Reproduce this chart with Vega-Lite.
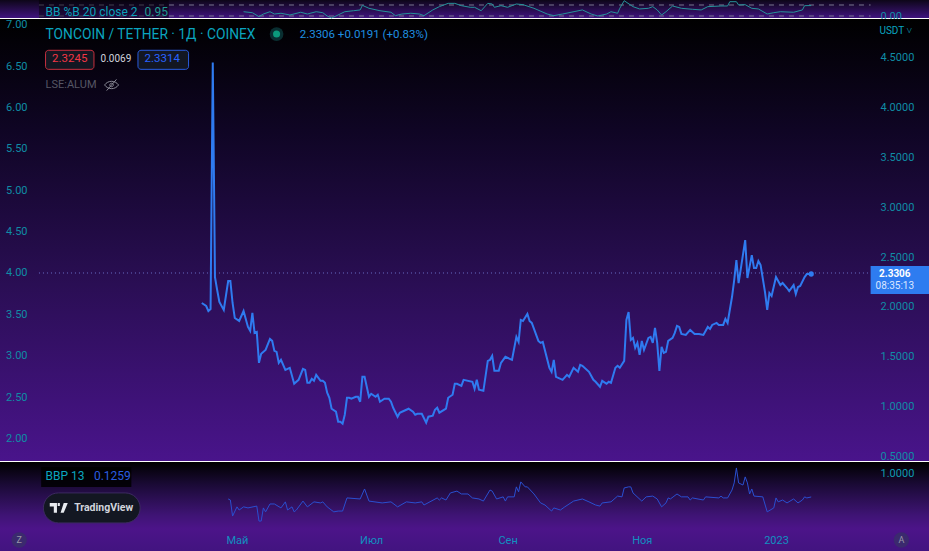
{"$schema":"https://vega.github.io/schema/vega-lite/v6.json","padding":{"top":-2,"left":0,"right":0,"bottom":0},"spacing":1,"bounds":"flush","background":"#ffffff","config":{"font":"Roboto","view":{"stroke":null},"text":{"font":"Roboto"}},
"datasets":{
"price":[{"d":"2022-04-15","p":2.04},{"d":"2022-04-17","p":2.01},{"d":"2022-04-18","p":1.96},{"d":"2022-04-19","p":1.98},{"d":"2022-04-20","p":4.45},{"d":"2022-04-21","p":2.3},{"d":"2022-04-22","p":2.17},{"d":"2022-04-23","p":2.05},{"d":"2022-04-25","p":1.97},{"d":"2022-04-27","p":2.26},{"d":"2022-04-28","p":2.26},{"d":"2022-04-29","p":2.04},{"d":"2022-04-30","p":1.89},{"d":"2022-05-02","p":1.86},{"d":"2022-05-04","p":1.96},{"d":"2022-05-06","p":1.8},{"d":"2022-05-07","p":1.76},{"d":"2022-05-08","p":1.94},{"d":"2022-05-09","p":1.74},{"d":"2022-05-10","p":1.75},{"d":"2022-05-11","p":1.44},{"d":"2022-05-12","p":1.53},{"d":"2022-05-14","p":1.57},{"d":"2022-05-16","p":1.68},{"d":"2022-05-17","p":1.66},{"d":"2022-05-18","p":1.56},{"d":"2022-05-19","p":1.55},{"d":"2022-05-20","p":1.44},{"d":"2022-05-21","p":1.47},{"d":"2022-05-23","p":1.37},{"d":"2022-05-25","p":1.39},{"d":"2022-05-27","p":1.23},{"d":"2022-05-29","p":1.27},{"d":"2022-05-31","p":1.38},{"d":"2022-06-01","p":1.37},{"d":"2022-06-02","p":1.24},{"d":"2022-06-03","p":1.24},{"d":"2022-06-04","p":1.28},{"d":"2022-06-05","p":1.26},{"d":"2022-06-06","p":1.32},{"d":"2022-06-08","p":1.26},{"d":"2022-06-09","p":1.26},{"d":"2022-06-10","p":1.24},{"d":"2022-06-11","p":1.14},{"d":"2022-06-12","p":1.09},{"d":"2022-06-13","p":0.98},{"d":"2022-06-15","p":0.95},{"d":"2022-06-16","p":0.85},{"d":"2022-06-17","p":0.85},{"d":"2022-06-18","p":0.83},{"d":"2022-06-19","p":0.92},{"d":"2022-06-20","p":1.09},{"d":"2022-06-21","p":1.09},{"d":"2022-06-22","p":1.08},{"d":"2022-06-24","p":1.1},{"d":"2022-06-25","p":1.1},{"d":"2022-06-26","p":1.05},{"d":"2022-06-27","p":1.3},{"d":"2022-06-28","p":1.3},{"d":"2022-06-30","p":1.1},{"d":"2022-07-01","p":1.13},{"d":"2022-07-03","p":1.1},{"d":"2022-07-04","p":1.12},{"d":"2022-07-05","p":1.05},{"d":"2022-07-07","p":1.08},{"d":"2022-07-09","p":1.08},{"d":"2022-07-10","p":1.05},{"d":"2022-07-11","p":0.99},{"d":"2022-07-13","p":0.9},{"d":"2022-07-14","p":0.94},{"d":"2022-07-15","p":0.95},{"d":"2022-07-18","p":0.98},{"d":"2022-07-20","p":0.95},{"d":"2022-07-21","p":0.92},{"d":"2022-07-22","p":0.93},{"d":"2022-07-24","p":0.93},{"d":"2022-07-26","p":0.84},{"d":"2022-07-27","p":0.9},{"d":"2022-07-29","p":0.91},{"d":"2022-07-30","p":0.97},{"d":"2022-07-31","p":0.99},{"d":"2022-08-01","p":0.94},{"d":"2022-08-04","p":0.98},{"d":"2022-08-05","p":1.09},{"d":"2022-08-07","p":1.12},{"d":"2022-08-08","p":1.23},{"d":"2022-08-09","p":1.23},{"d":"2022-08-11","p":1.21},{"d":"2022-08-12","p":1.27},{"d":"2022-08-16","p":1.25},{"d":"2022-08-17","p":1.18},{"d":"2022-08-18","p":1.27},{"d":"2022-08-19","p":1.17},{"d":"2022-08-21","p":1.16},{"d":"2022-08-23","p":1.46},{"d":"2022-08-24","p":1.47},{"d":"2022-08-25","p":1.51},{"d":"2022-08-26","p":1.36},{"d":"2022-08-28","p":1.36},{"d":"2022-08-29","p":1.44},{"d":"2022-08-31","p":1.5},{"d":"2022-09-02","p":1.48},{"d":"2022-09-03","p":1.47},{"d":"2022-09-05","p":1.7},{"d":"2022-09-06","p":1.65},{"d":"2022-09-07","p":1.87},{"d":"2022-09-08","p":1.86},{"d":"2022-09-10","p":1.93},{"d":"2022-09-11","p":1.86},{"d":"2022-09-12","p":1.84},{"d":"2022-09-15","p":1.66},{"d":"2022-09-16","p":1.64},{"d":"2022-09-17","p":1.65},{"d":"2022-09-20","p":1.39},{"d":"2022-09-21","p":1.35},{"d":"2022-09-22","p":1.47},{"d":"2022-09-23","p":1.3},{"d":"2022-09-26","p":1.27},{"d":"2022-09-28","p":1.32},{"d":"2022-09-29","p":1.3},{"d":"2022-10-01","p":1.39},{"d":"2022-10-03","p":1.35},{"d":"2022-10-04","p":1.42},{"d":"2022-10-05","p":1.41},{"d":"2022-10-08","p":1.35},{"d":"2022-10-10","p":1.27},{"d":"2022-10-11","p":1.25},{"d":"2022-10-13","p":1.2},{"d":"2022-10-14","p":1.26},{"d":"2022-10-16","p":1.23},{"d":"2022-10-17","p":1.25},{"d":"2022-10-18","p":1.24},{"d":"2022-10-20","p":1.39},{"d":"2022-10-21","p":1.41},{"d":"2022-10-22","p":1.39},{"d":"2022-10-24","p":1.46},{"d":"2022-10-25","p":1.87},{"d":"2022-10-26","p":1.95},{"d":"2022-10-27","p":1.67},{"d":"2022-10-28","p":1.69},{"d":"2022-10-29","p":1.59},{"d":"2022-10-30","p":1.64},{"d":"2022-10-31","p":1.52},{"d":"2022-11-01","p":1.66},{"d":"2022-11-02","p":1.57},{"d":"2022-11-04","p":1.69},{"d":"2022-11-05","p":1.7},{"d":"2022-11-06","p":1.64},{"d":"2022-11-07","p":1.79},{"d":"2022-11-08","p":1.64},{"d":"2022-11-09","p":1.36},{"d":"2022-11-10","p":1.6},{"d":"2022-11-11","p":1.54},{"d":"2022-11-12","p":1.55},{"d":"2022-11-13","p":1.66},{"d":"2022-11-15","p":1.69},{"d":"2022-11-16","p":1.74},{"d":"2022-11-17","p":1.81},{"d":"2022-11-18","p":1.8},{"d":"2022-11-19","p":1.73},{"d":"2022-11-21","p":1.72},{"d":"2022-11-23","p":1.77},{"d":"2022-11-25","p":1.73},{"d":"2022-11-27","p":1.73},{"d":"2022-11-29","p":1.72},{"d":"2022-12-01","p":1.8},{"d":"2022-12-02","p":1.78},{"d":"2022-12-03","p":1.82},{"d":"2022-12-05","p":1.84},{"d":"2022-12-06","p":1.82},{"d":"2022-12-08","p":1.82},{"d":"2022-12-09","p":1.88},{"d":"2022-12-10","p":1.84},{"d":"2022-12-11","p":1.97},{"d":"2022-12-12","p":2.1},{"d":"2022-12-13","p":2.27},{"d":"2022-12-14","p":2.47},{"d":"2022-12-15","p":2.24},{"d":"2022-12-18","p":2.67},{"d":"2022-12-19","p":2.29},{"d":"2022-12-21","p":2.52},{"d":"2022-12-22","p":2.39},{"d":"2022-12-23","p":2.39},{"d":"2022-12-24","p":2.46},{"d":"2022-12-25","p":2.42},{"d":"2022-12-27","p":2.15},{"d":"2022-12-28","p":1.97},{"d":"2022-12-29","p":2.14},{"d":"2022-12-30","p":2.11},{"d":"2023-01-01","p":2.3},{"d":"2023-01-03","p":2.22},{"d":"2023-01-04","p":2.24},{"d":"2023-01-06","p":2.19},{"d":"2023-01-07","p":2.16},{"d":"2023-01-09","p":2.22},{"d":"2023-01-10","p":2.13},{"d":"2023-01-11","p":2.2},{"d":"2023-01-12","p":2.21},{"d":"2023-01-14","p":2.3},{"d":"2023-01-15","p":2.33},{"d":"2023-01-17","p":2.3306}],
"bbp":[{"d":"2022-04-27","v":0.05},{"d":"2022-04-28","v":0.01},{"d":"2022-04-29","v":-0.6},{"d":"2022-05-01","v":-0.25},{"d":"2022-05-02","v":-0.37},{"d":"2022-05-04","v":-0.25},{"d":"2022-05-06","v":-0.29},{"d":"2022-05-10","v":-0.22},{"d":"2022-05-11","v":-0.79},{"d":"2022-05-12","v":-0.79},{"d":"2022-05-13","v":-0.29},{"d":"2022-05-14","v":-0.44},{"d":"2022-05-16","v":-0.14},{"d":"2022-05-18","v":-0.14},{"d":"2022-05-21","v":-0.29},{"d":"2022-05-23","v":-0.06},{"d":"2022-05-24","v":-0.37},{"d":"2022-05-26","v":-0.25},{"d":"2022-05-27","v":-0.44},{"d":"2022-05-28","v":-0.37},{"d":"2022-05-31","v":-0.03},{"d":"2022-06-02","v":-0.25},{"d":"2022-06-05","v":-0.06},{"d":"2022-06-08","v":-0.1},{"d":"2022-06-09","v":-0.06},{"d":"2022-06-11","v":-0.25},{"d":"2022-06-14","v":-0.44},{"d":"2022-06-16","v":-0.41},{"d":"2022-06-18","v":-0.41},{"d":"2022-06-20","v":0.09},{"d":"2022-06-26","v":0.05},{"d":"2022-06-28","v":0.43},{"d":"2022-06-30","v":-0.03},{"d":"2022-07-06","v":-0.1},{"d":"2022-07-10","v":-0.06},{"d":"2022-07-13","v":-0.25},{"d":"2022-07-17","v":-0.06},{"d":"2022-07-21","v":-0.1},{"d":"2022-07-24","v":-0.06},{"d":"2022-07-25","v":-0.18},{"d":"2022-07-31","v":0.09},{"d":"2022-08-01","v":0.01},{"d":"2022-08-02","v":0.09},{"d":"2022-08-04","v":0.01},{"d":"2022-08-06","v":0.28},{"d":"2022-08-09","v":0.35},{"d":"2022-08-11","v":0.24},{"d":"2022-08-14","v":0.24},{"d":"2022-08-16","v":0.09},{"d":"2022-08-19","v":0.05},{"d":"2022-08-21","v":-0.03},{"d":"2022-08-24","v":0.39},{"d":"2022-08-25","v":0.35},{"d":"2022-08-27","v":0.05},{"d":"2022-08-30","v":0.13},{"d":"2022-08-31","v":-0.03},{"d":"2022-09-01","v":0.13},{"d":"2022-09-04","v":0.13},{"d":"2022-09-05","v":0.51},{"d":"2022-09-06","v":0.32},{"d":"2022-09-07","v":0.7},{"d":"2022-09-09","v":0.51},{"d":"2022-09-10","v":0.51},{"d":"2022-09-13","v":0.24},{"d":"2022-09-16","v":-0.1},{"d":"2022-09-18","v":-0.18},{"d":"2022-09-21","v":-0.41},{"d":"2022-09-22","v":-0.29},{"d":"2022-09-25","v":-0.37},{"d":"2022-09-27","v":-0.25},{"d":"2022-10-01","v":-0.03},{"d":"2022-10-05","v":0.05},{"d":"2022-10-08","v":-0.06},{"d":"2022-10-11","v":-0.18},{"d":"2022-10-13","v":-0.22},{"d":"2022-10-14","v":-0.1},{"d":"2022-10-18","v":-0.06},{"d":"2022-10-21","v":0.16},{"d":"2022-10-23","v":0.13},{"d":"2022-10-24","v":0.47},{"d":"2022-10-26","v":0.51},{"d":"2022-10-27","v":0.51},{"d":"2022-10-28","v":0.28},{"d":"2022-11-01","v":-0.03},{"d":"2022-11-03","v":0.13},{"d":"2022-11-06","v":0.16},{"d":"2022-11-08","v":0.05},{"d":"2022-11-10","v":-0.25},{"d":"2022-11-12","v":-0.1},{"d":"2022-11-13","v":0.09},{"d":"2022-11-14","v":0.05},{"d":"2022-11-17","v":0.24},{"d":"2022-11-19","v":0.13},{"d":"2022-11-22","v":0.13},{"d":"2022-11-23","v":0.01},{"d":"2022-11-24","v":0.09},{"d":"2022-11-29","v":0.01},{"d":"2022-11-30","v":0.13},{"d":"2022-12-06","v":0.09},{"d":"2022-12-07","v":0.16},{"d":"2022-12-08","v":0.09},{"d":"2022-12-10","v":0.09},{"d":"2022-12-12","v":0.39},{"d":"2022-12-13","v":0.66},{"d":"2022-12-14","v":1.23},{"d":"2022-12-15","v":0.66},{"d":"2022-12-17","v":0.58},{"d":"2022-12-18","v":0.89},{"d":"2022-12-19","v":0.66},{"d":"2022-12-20","v":0.24},{"d":"2022-12-21","v":0.43},{"d":"2022-12-22","v":0.16},{"d":"2022-12-26","v":0.13},{"d":"2022-12-28","v":-0.44},{"d":"2022-12-31","v":-0.29},{"d":"2023-01-01","v":0.09},{"d":"2023-01-02","v":-0.06},{"d":"2023-01-04","v":0.01},{"d":"2023-01-06","v":-0.1},{"d":"2023-01-09","v":0.05},{"d":"2023-01-11","v":-0.1},{"d":"2023-01-13","v":0.01},{"d":"2023-01-14","v":0.13},{"d":"2023-01-15","v":0.09},{"d":"2023-01-17","v":0.1259}],
"pctb":[{"d":"2022-05-04","v":0.39},{"d":"2022-05-08","v":0.3},{"d":"2022-05-11","v":-0.06},{"d":"2022-05-13","v":0.18},{"d":"2022-05-16","v":0.39},{"d":"2022-05-18","v":0.18},{"d":"2022-05-21","v":0.25},{"d":"2022-05-25","v":0.09},{"d":"2022-05-30","v":0.34},{"d":"2022-06-02","v":0.18},{"d":"2022-06-06","v":0.39},{"d":"2022-06-09","v":0.3},{"d":"2022-06-11","v":0},{"d":"2022-06-13","v":-0.18},{"d":"2022-06-15","v":0},{"d":"2022-06-19","v":0.39},{"d":"2022-06-23","v":0.48},{"d":"2022-06-26","v":0.55},{"d":"2022-06-27","v":0.97},{"d":"2022-06-30","v":0.7},{"d":"2022-07-05","v":0.48},{"d":"2022-07-10","v":0.34},{"d":"2022-07-12","v":0.03},{"d":"2022-07-15","v":0.18},{"d":"2022-07-19","v":0.25},{"d":"2022-07-23","v":0.18},{"d":"2022-07-25","v":0.03},{"d":"2022-07-29","v":0.55},{"d":"2022-08-01","v":0.85},{"d":"2022-08-05","v":1.15},{"d":"2022-08-08","v":1.15},{"d":"2022-08-11","v":0.94},{"d":"2022-08-15","v":0.79},{"d":"2022-08-17","v":0.79},{"d":"2022-08-20","v":0.48},{"d":"2022-08-23","v":1.15},{"d":"2022-08-25","v":1.09},{"d":"2022-08-26","v":0.79},{"d":"2022-08-29","v":0.94},{"d":"2022-09-01","v":0.79},{"d":"2022-09-05","v":1.09},{"d":"2022-09-08","v":1.03},{"d":"2022-09-13","v":0.7},{"d":"2022-09-19","v":0.18},{"d":"2022-09-22","v":0.03},{"d":"2022-09-26","v":0.18},{"d":"2022-10-05","v":0.55},{"d":"2022-10-09","v":0.18},{"d":"2022-10-12","v":0},{"d":"2022-10-16","v":0.18},{"d":"2022-10-18","v":0.39},{"d":"2022-10-21","v":0.25},{"d":"2022-10-22","v":0.7},{"d":"2022-10-24","v":1.39},{"d":"2022-10-28","v":0.85},{"d":"2022-10-31","v":0.64},{"d":"2022-11-04","v":0.7},{"d":"2022-11-06","v":0.85},{"d":"2022-11-08","v":0.55},{"d":"2022-11-10","v":0.09},{"d":"2022-11-12","v":0.39},{"d":"2022-11-15","v":0.91},{"d":"2022-11-19","v":0.7},{"d":"2022-11-24","v":0.61},{"d":"2022-11-28","v":0.55},{"d":"2022-12-01","v":0.85},{"d":"2022-12-07","v":0.91},{"d":"2022-12-10","v":0.91},{"d":"2022-12-11","v":1.3},{"d":"2022-12-14","v":1.3},{"d":"2022-12-15","v":1},{"d":"2022-12-18","v":1.03},{"d":"2022-12-21","v":0.7},{"d":"2022-12-24","v":0.64},{"d":"2022-12-28","v":0.18},{"d":"2022-12-31","v":0.3},{"d":"2023-01-03","v":0.39},{"d":"2023-01-09","v":0.34},{"d":"2023-01-13","v":0.55},{"d":"2023-01-14","v":0.94},{"d":"2023-01-17","v":0.95}]
},
"vconcat":[
{"data":{"values":[{}]},"width":929,"height":18,"view":{"stroke":null,"fill":{"gradient":"linear","x1":0,"y1":0,"x2":0,"y2":1,"stops":[{"offset":0,"color":"#0d0618"},{"offset":1,"color":"#40147f"}]}},
"layer":[
{"mark":{"type":"rule","color":"#7a7890","strokeWidth":1,"strokeDash":[5,5]},"encoding":{"x":{"datum":{"year":2022,"month":1,"date":31,"utc":true},"type":"temporal","axis":null,"scale":{"type":"utc","domain":["2022-01-13T07:00:00Z","2023-03-11T13:00:00Z"],"nice":false}},"x2":{"datum":{"year":2023,"month":2,"date":13,"utc":true}},"y":{"datum":1,"type":"quantitative","axis":{"orient":"right","values":[0],"format":".2f","offset":-49,"grid":false,"domain":false,"ticks":false,"labelPadding":0,"labelAlign":"left","labelColor":"#0f8ca5","labelFontSize":11,"labelBound":false,"labelOverlap":false,"title":null},"scale":{"domain":[-0.1818,1.4545],"nice":false,"zero":false}}}},
{"mark":{"type":"rule","color":"#7a7890","strokeWidth":1,"strokeDash":[5,5]},"encoding":{"x":{"datum":{"year":2022,"month":1,"date":31,"utc":true},"type":"temporal"},"x2":{"datum":{"year":2023,"month":2,"date":13,"utc":true}},"y":{"datum":0,"type":"quantitative"}}},
{"data":{"name":"pctb"},"mark":{"type":"line","color":"#26929a","strokeWidth":1,"interpolate":"linear"},"encoding":{"x":{"field":"d","type":"temporal"},"y":{"field":"v","type":"quantitative"}}},
{"mark":{"type":"rect","color":"#000000","opacity":0.45},"encoding":{"x":{"datum":{"year":2022,"month":1,"date":31,"utc":true},"type":"temporal"},"x2":{"datum":{"year":2022,"month":3,"date":31,"utc":true}},"y":{"datum":-0.1818,"type":"quantitative"},"y2":{"datum":1.4545}}},
{"mark":{"type":"text","align":"left","baseline":"middle","fontSize":12,"color":"#0aa0b8"},"encoding":{"text":{"value":"BB %B 20 close 2"},"x":{"datum":{"year":2022,"month":2,"date":3,"utc":true},"type":"temporal"},"y":{"datum":0.36,"type":"quantitative"}}},
{"mark":{"type":"text","align":"left","baseline":"middle","fontSize":12,"color":"#1f9a90"},"encoding":{"text":{"value":"0.95"},"x":{"datum":{"year":2022,"month":3,"date":20,"utc":true},"type":"temporal"},"y":{"datum":0.36,"type":"quantitative"}}}
]},
{"data":{"values":[{}]},"width":929,"height":442,"view":{"stroke":null,"fill":{"gradient":"linear","x1":0,"y1":0,"x2":0,"y2":1,"stops":[{"offset":0,"color":"#000000"},{"offset":0.25,"color":"#0f0524"},{"offset":0.6,"color":"#2a0e54"},{"offset":1,"color":"#49148b"}]}},
"resolve":{"scale":{"y":"independent"},"axis":{"y":"independent"}},
"layer":[
{"layer":[
{"mark":{"type":"rule","color":"#6a6ec8","strokeWidth":1,"strokeDash":[1,3]},"encoding":{"x":{"datum":{"year":2022,"month":1,"date":31,"utc":true},"type":"temporal","axis":null,"scale":{"type":"utc","domain":["2022-01-13T07:00:00Z","2023-03-11T13:00:00Z"],"nice":false}},"x2":{"datum":{"year":2023,"month":2,"date":13,"utc":true}},"y":{"datum":4,"type":"quantitative","axis":{"orient":"left","values":[2,2.5,3,3.5,4,4.5,5,5.5,6,6.5,7],"format":".2f","offset":-27,"grid":false,"domain":false,"ticks":false,"labelPadding":0,"labelColor":"#0f8ca5","labelFontSize":11,"labelBound":false,"labelOverlap":false,"title":null},"scale":{"domain":[1.729,7.068],"nice":false,"zero":false}}}},
{"mark":{"type":"text","align":"left","baseline":"middle","fontSize":13.8,"color":"#0aa5bf"},"encoding":{"text":{"value":"TONCOIN / TETHER · 1Д · COINEX"},"x":{"datum":{"year":2022,"month":2,"date":3,"utc":true},"type":"temporal"},"y":{"datum":6.874,"type":"quantitative"}}},
{"mark":{"type":"point","filled":true,"size":190,"color":"#0b3a3c","opacity":0.8},"encoding":{"x":{"datum":{"year":2022,"month":5,"date":19,"utc":true},"type":"temporal"},"y":{"datum":6.886,"type":"quantitative"}}},
{"mark":{"type":"point","filled":true,"size":50,"color":"#0b9a7c","opacity":1},"encoding":{"x":{"datum":{"year":2022,"month":5,"date":19,"utc":true},"type":"temporal"},"y":{"datum":6.886,"type":"quantitative"}}},
{"mark":{"type":"text","align":"left","baseline":"middle","fontSize":11.5,"color":"#1f8fe0"},"encoding":{"text":{"value":"2.3306 +0.0191 (+0.83%)"},"x":{"datum":{"year":2022,"month":5,"date":29,"hours":12,"utc":true},"type":"temporal"},"y":{"datum":6.874,"type":"quantitative"}}},
{"mark":{"type":"rect","fill":"#131722","stroke":"#c8303f","strokeWidth":1,"cornerRadius":3},"encoding":{"x":{"datum":{"year":2022,"month":2,"date":3,"utc":true},"type":"temporal"},"x2":{"datum":{"year":2022,"month":2,"date":25,"utc":true}},"y":{"datum":6.69,"type":"quantitative"},"y2":{"datum":6.46}}},
{"mark":{"type":"text","align":"center","baseline":"middle","fontSize":11.5,"color":"#f23645"},"encoding":{"text":{"value":"2.3245"},"x":{"datum":{"year":2022,"month":2,"date":14,"utc":true},"type":"temporal"},"y":{"datum":6.58,"type":"quantitative"}}},
{"mark":{"type":"text","align":"center","baseline":"middle","fontSize":10,"color":"#d1d4dc"},"encoding":{"text":{"value":"0.0069"},"x":{"datum":{"year":2022,"month":3,"date":7,"utc":true},"type":"temporal"},"y":{"datum":6.58,"type":"quantitative"}}},
{"mark":{"type":"rect","fill":"#131722","stroke":"#2a5de0","strokeWidth":1,"cornerRadius":3},"encoding":{"x":{"datum":{"year":2022,"month":3,"date":17,"utc":true},"type":"temporal"},"x2":{"datum":{"year":2022,"month":4,"date":9,"utc":true}},"y":{"datum":6.69,"type":"quantitative"},"y2":{"datum":6.46}}},
{"mark":{"type":"text","align":"center","baseline":"middle","fontSize":11.5,"color":"#2962ff"},"encoding":{"text":{"value":"2.3314"},"x":{"datum":{"year":2022,"month":3,"date":28,"utc":true},"type":"temporal"},"y":{"datum":6.58,"type":"quantitative"}}},
{"mark":{"type":"text","align":"left","baseline":"middle","fontSize":11,"color":"#565664"},"encoding":{"text":{"value":"LSE:ALUM"},"x":{"datum":{"year":2022,"month":2,"date":3,"utc":true},"type":"temporal"},"y":{"datum":6.271,"type":"quantitative"}}},
{"mark":{"type":"point","filled":false,"size":196,"stroke":"#8a8a96","strokeWidth":1,"opacity":1,"shape":"M-1,0 C-.5,-.7 .5,-.7 1,0 C.5,.7 -.5,.7 -1,0 Z M-.25,0 A.25,.25 0 1,1 .25,0 A.25,.25 0 1,1 -.25,0 Z M-.7,.8 L.7,-.8"},"encoding":{"x":{"datum":{"year":2022,"month":3,"date":5,"utc":true},"type":"temporal"},"y":{"datum":6.271,"type":"quantitative"}}}
]},
{"layer":[
{"data":{"name":"price"},"mark":{"type":"line","color":"#2f7bf0","strokeWidth":2,"interpolate":"linear"},"encoding":{"x":{"field":"d","type":"temporal"},"y":{"field":"p","type":"quantitative","axis":{"orient":"right","values":[0.5,1,1.5,2,2.5,3,3.5,4,4.5],"format":".4f","offset":-49,"grid":false,"domain":false,"ticks":false,"labelPadding":0,"labelAlign":"left","labelColor":"#0f8ca5","labelFontSize":11,"labelBound":false,"labelOverlap":false,"title":null},"scale":{"domain":[0.456,4.887],"nice":false,"zero":false}}}},
{"mark":{"type":"point","filled":true,"size":28,"color":"#2f7bf0","opacity":1},"encoding":{"x":{"datum":{"year":2023,"month":1,"date":17,"utc":true},"type":"temporal"},"y":{"datum":2.3306,"type":"quantitative"}}},
{"mark":{"type":"rect","color":"#2e7cf0"},"encoding":{"x":{"datum":{"year":2023,"month":2,"date":13,"utc":true},"type":"temporal"},"x2":{"datum":{"year":2023,"month":3,"date":11,"hours":13,"utc":true}},"y":{"datum":2.411,"type":"quantitative"},"y2":{"datum":2.13}}},
{"mark":{"type":"text","align":"center","baseline":"middle","fontSize":10,"fontWeight":"bold","color":"#ffffff"},"encoding":{"text":{"value":"2.3306"},"x":{"datum":{"year":2023,"month":2,"date":24,"utc":true},"type":"temporal"},"y":{"datum":2.33,"type":"quantitative"}}},
{"mark":{"type":"text","align":"center","baseline":"middle","fontSize":10,"color":"#dbe6ff"},"encoding":{"text":{"value":"08:35:13"},"x":{"datum":{"year":2023,"month":2,"date":24,"utc":true},"type":"temporal"},"y":{"datum":2.21,"type":"quantitative"}}},
{"mark":{"type":"text","align":"left","baseline":"middle","fontSize":10,"color":"#0aa5c0"},"encoding":{"text":{"value":"USDT ˅"},"x":{"datum":{"year":2023,"month":2,"date":17,"utc":true},"type":"temporal"},"y":{"datum":4.767,"type":"quantitative"}}}
]}
]},
{"data":{"values":[{}]},"width":929,"height":89,"view":{"stroke":null,"fill":{"gradient":"linear","x1":0,"y1":0,"x2":0,"y2":1,"stops":[{"offset":0,"color":"#000000"},{"offset":0.25,"color":"#1a0a35"},{"offset":0.6,"color":"#3f1475"},{"offset":0.75,"color":"#4c1489"},{"offset":1,"color":"#421480"}]}},
"layer":[
{"data":{"name":"bbp"},"mark":{"type":"line","color":"#2a4fd0","strokeWidth":1,"interpolate":"linear"},"encoding":{"x":{"field":"d","type":"temporal","axis":{"orient":"bottom","values":[{"year":2022,"month":5,"date":1,"utc":true},{"year":2022,"month":7,"date":1,"utc":true},{"year":2022,"month":9,"date":1,"utc":true},{"year":2022,"month":11,"date":1,"utc":true},{"year":2023,"month":1,"date":1,"utc":true}],"labelExpr":"{'4':'Май','6':'Июл','8':'Сен','10':'Ноя','0':'2023'}[utcmonth(datum.value)]","offset":-17,"grid":false,"domain":false,"ticks":false,"labelPadding":0,"labelColor":"#1190c0","labelFontSize":11,"labelBound":false,"labelFlush":false,"labelOverlap":false,"title":null},"scale":{"type":"utc","domain":["2022-01-13T07:00:00Z","2023-03-11T13:00:00Z"],"nice":false}},"y":{"field":"v","type":"quantitative","axis":{"orient":"right","values":[1],"format":".4f","offset":-49,"grid":false,"domain":false,"ticks":false,"labelPadding":0,"labelAlign":"left","labelColor":"#0f9ab0","labelFontSize":11,"labelBound":false,"labelOverlap":false,"title":null},"scale":{"domain":[-1.928,1.456],"nice":false,"zero":false}}}},
{"mark":{"type":"rect","color":"#000000","opacity":0.85},"encoding":{"x":{"datum":{"year":2022,"month":2,"date":1,"utc":true},"type":"temporal"},"x2":{"datum":{"year":2022,"month":3,"date":14,"utc":true}},"y":{"datum":1.27,"type":"quantitative"},"y2":{"datum":0.51}}},
{"mark":{"type":"text","align":"left","baseline":"middle","fontSize":12,"color":"#0aa5bf"},"encoding":{"text":{"value":"BBP 13"},"x":{"datum":{"year":2022,"month":2,"date":3,"utc":true},"type":"temporal"},"y":{"datum":0.92,"type":"quantitative"}}},
{"mark":{"type":"text","align":"left","baseline":"middle","fontSize":12,"color":"#2a5de0"},"encoding":{"text":{"value":"0.1259"},"x":{"datum":{"year":2022,"month":2,"date":25,"utc":true},"type":"temporal"},"y":{"datum":0.92,"type":"quantitative"}}},
{"mark":{"type":"rect","fill":"#131722","stroke":"#3c2a60","strokeWidth":1,"cornerRadius":15},"encoding":{"x":{"datum":{"year":2022,"month":2,"date":2,"utc":true},"type":"temporal"},"x2":{"datum":{"year":2022,"month":3,"date":18,"utc":true}},"y":{"datum":0.28,"type":"quantitative"},"y2":{"datum":-0.86}}},
{"mark":{"type":"point","filled":true,"size":324,"color":"#e8ebf0","opacity":1,"shape":"M-1,-.55 H-.2 V.55 H-.55 V-.15 H-1 Z M-.12,-.55 H.12 V-.2 H-.12 Z M.2,.55 L.55,-.55 H1 L.55,.55 Z"},"encoding":{"x":{"datum":{"year":2022,"month":2,"date":9,"utc":true},"type":"temporal"},"y":{"datum":-0.29,"type":"quantitative"}}},
{"mark":{"type":"text","align":"left","baseline":"middle","fontSize":10.5,"fontWeight":"bold","color":"#d1d4dc"},"encoding":{"text":{"value":"TradingView"},"x":{"datum":{"year":2022,"month":2,"date":16,"utc":true},"type":"temporal"},"y":{"datum":-0.29,"type":"quantitative"}}},
{"mark":{"type":"point","filled":true,"size":240,"color":"#3b2a6e","opacity":1},"encoding":{"x":{"datum":{"year":2022,"month":1,"date":22,"utc":true},"type":"temporal"},"y":{"datum":-1.51,"type":"quantitative"}}},
{"mark":{"type":"text","align":"center","baseline":"middle","fontSize":9,"color":"#9a96a8"},"encoding":{"text":{"value":"Z"},"x":{"datum":{"year":2022,"month":1,"date":22,"utc":true},"type":"temporal"},"y":{"datum":-1.51,"type":"quantitative"}}},
{"mark":{"type":"point","filled":true,"size":240,"color":"#3b2a6e","opacity":1},"encoding":{"x":{"datum":{"year":2023,"month":2,"date":27,"utc":true},"type":"temporal"},"y":{"datum":-1.51,"type":"quantitative"}}},
{"mark":{"type":"text","align":"center","baseline":"middle","fontSize":9,"color":"#9a96a8"},"encoding":{"text":{"value":"A"},"x":{"datum":{"year":2023,"month":2,"date":27,"utc":true},"type":"temporal"},"y":{"datum":-1.51,"type":"quantitative"}}}
]}
]}
